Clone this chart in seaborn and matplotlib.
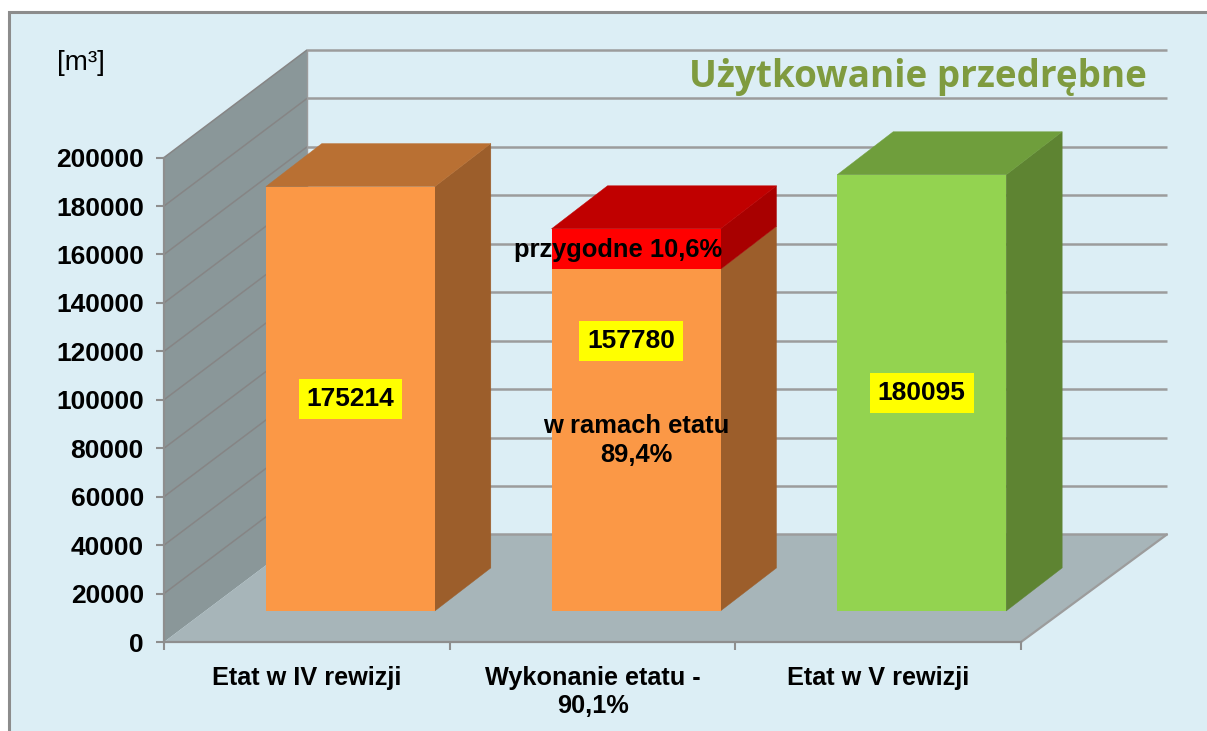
import matplotlib
matplotlib.use("Agg")
import matplotlib.pyplot as plt
from matplotlib.patches import Polygon, Rectangle
import numpy as np
import seaborn as sns

# ---- data ----
categories = ["Etat w IV rewizji", "Wykonanie etatu -\n90,1%", "Etat w V rewizji"]
within_plan = [175214, 141055, 180095]   # lower segment
accidental = [0, 16725, 0]               # upper segment (przygodne)
totals = [175214, 157780, 180095]
y_ticks = [0, 20000, 40000, 60000, 80000, 100000, 120000, 140000, 160000, 180000, 200000]
title_text = "Użytkowanie przedrębne"
unit_text = "[m³]"

# ---- styles ----
FRONT = ["#FB9846", "#FB9846", "#93D350"]
TOP = ["#B97033", "#B97033", "#6F9E3C"]
SIDE = ["#9C5E2B", "#9C5E2B", "#5E8432"]
RED_FRONT, RED_TOP, RED_SIDE = "#FF0000", "#C00000", "#A80000"
BG, WALL, FLOOR, GRID, WALLGRID = "#DCEEF5", "#8A9799", "#A7B5B9", "#9C9C9C", "#868585"
FONT = "Liberation Sans"

W, H = 1207, 731
AX_L, AX_R, AX_B, AX_T = 164, 1167, 642, 50
XPX = (1021 - 164) / 3          # pixels per category
YPX = (642 - 158) / 200000      # pixels per m3

def px_x(n):
    return n / XPX

def px_y(n):
    return n / YPX

FLOOR_DX_L, FLOOR_DX, FLOOR_DY = px_x(143), px_x(146), px_y(107.5)
BAR_SHIFT_X, BAR_SHIFT_Y = px_x(43.5), px_y(31)
BAR_DX, BAR_DY = px_x(56), px_y(43)
BAR_WIDTH = 169 / XPX

sns.set_theme(style="white")
plt.rcParams["font.family"] = [FONT, "DejaVu Sans"]

fig = plt.figure(figsize=(W / 100, H / 100), dpi=100, facecolor="white")
fig.add_artist(Rectangle((8.5 / W, -0.1), 1.1, 1 - 11.5 / H + 0.1, transform=fig.transFigure,
                         facecolor=BG, edgecolor="#8C8C8C", linewidth=2.2, zorder=-5))
ax = fig.add_axes([AX_L / W, 1 - AX_B / H, (AX_R - AX_L) / W, (AX_B - AX_T) / H])
ax.patch.set_visible(False)

def poly(pts, color, z, ec=None, lw=0.0):
    ax.add_patch(Polygon(pts, closed=True, facecolor=color, edgecolor=ec or color, linewidth=lw, zorder=z))

# segments drawn by seaborn, then moved into the pseudo-3D front plane
def draw_segment(values, colors, z):
    before = len(ax.patches)
    sns.barplot(x=categories, y=values, hue=categories, palette=colors, legend=False,
                width=BAR_WIDTH, gap=0, dodge=False, ax=ax, zorder=z, linewidth=0, saturation=1)
    return ax.patches[before:]

base_bars = draw_segment(within_plan, FRONT, 6)
top_bars = draw_segment(accidental, [RED_FRONT] * 3, 6)

x0, x1 = -0.5, 2.5
xlim = (x0, x1 + FLOOR_DX)
ylim = (0, 200000 + FLOOR_DY)
ax.set_xlim(*xlim)
ax.set_ylim(*ylim)

# walls and floor
poly([(x0, 0), (x0 + FLOOR_DX_L, FLOOR_DY), (x0 + FLOOR_DX_L, 200000 + FLOOR_DY), (x0, 200000)], WALL, 1)
poly([(x0, 0), (x1, 0), (x1 + FLOOR_DX, FLOOR_DY), (x0 + FLOOR_DX_L, FLOOR_DY)], FLOOR, 1)
ax.plot([x1, x1 + FLOOR_DX], [0, FLOOR_DY], color=GRID, lw=1.6, zorder=2, clip_on=False)
for t in y_ticks:
    ax.plot([x0 + FLOOR_DX_L, x1 + FLOOR_DX], [t + FLOOR_DY] * 2, color=GRID, lw=1.8, zorder=2,
            clip_on=False, solid_capstyle="butt")
    if t > 0:
        ax.plot([x0, x0 + FLOOR_DX_L], [t, t + FLOOR_DY], color=WALLGRID, lw=1.1, zorder=2, clip_on=False)
ax.plot([x0 + FLOOR_DX_L] * 2, [FLOOR_DY, 200000 + FLOOR_DY], color=GRID, lw=1.0, zorder=2)

# extrude each bar
def extrude(patch, bottom, i, z, front_side, front_top=None):
    patch.set_x(patch.get_x() + BAR_SHIFT_X)
    patch.set_y(bottom + BAR_SHIFT_Y)
    xl, xr = patch.get_x(), patch.get_x() + patch.get_width()
    yb, yt = patch.get_y(), patch.get_y() + patch.get_height()
    poly([(xr, yb), (xr + BAR_DX, yb + BAR_DY), (xr + BAR_DX, yt + BAR_DY), (xr, yt)], front_side, z, lw=0.3)
    if front_top:
        poly([(xl, yt), (xr, yt), (xr + BAR_DX, yt + BAR_DY), (xl + BAR_DX, yt + BAR_DY)], front_top, z, lw=0.3)

for i, p in enumerate(base_bars):
    has_top = accidental[i] == 0
    extrude(p, 0, i, 4, SIDE[i], TOP[i] if has_top else None)
for i, p in enumerate(top_bars):
    if accidental[i] > 0:
        extrude(p, within_plan[i], i, 5, RED_SIDE, RED_TOP)
    else:
        p.set_visible(False)

# axes furniture
for s in ("top", "right"):
    ax.spines[s].set_visible(False)
for s in ("left", "bottom"):
    ax.spines[s].set_color("#8E8E8E")
    ax.spines[s].set_linewidth(1.6)
    ax.spines[s].set_zorder(3)
ax.spines["left"].set_bounds(0, 200000)
ax.spines["bottom"].set_bounds(x0, x1)
ax.set_yticks(y_ticks)
ax.set_yticklabels([str(t) for t in y_ticks], fontsize=19, fontweight="bold", color="black", fontfamily=FONT)
ax.set_xticks([0, 1, 2])
ax.set_xticklabels(categories, fontsize=18.2, fontweight="bold", color="black", fontfamily=FONT,
                   linespacing=1.25)
ax.set_xticks([-0.5, 0.5, 1.5, 2.5], minor=True)
ax.tick_params(axis="y", which="major", left=True, length=5.5, width=1.5, color="#8E8E8E", pad=9)
ax.tick_params(axis="x", which="minor", bottom=True, length=5.5, width=1.5, color="#8E8E8E")
ax.tick_params(axis="x", which="major", bottom=False, length=0, pad=17)
ax.set_xlabel("")
ax.set_ylabel("")

# pixel-anchored annotations
def fig_text(px, py, s, **kw):
    kw.setdefault("ha", "center")
    kw.setdefault("va", "center")
    fig.text(px / W, 1 - py / H, s, **kw)

fig_text(81, 63, unit_text, fontsize=20, color="black", fontfamily=FONT)
fig_text(1147, 77, title_text, ha="right", fontsize=26.6, fontweight="bold", color="#7F9B3F", fontfamily="Open Sans")

box = dict(boxstyle="square,pad=0.3", facecolor="#FFFF00", edgecolor="none")
for i, v in enumerate(totals):
    cx = i + BAR_SHIFT_X
    cy = BAR_SHIFT_Y + v / 2
    if i == 1:
        cx, cy = 1 + px_x(38.5), px_y(642 - 341.5)
    ax.text(cx, cy, str(v), ha="center", va="center", fontsize=19, fontweight="bold", color="black",
            fontfamily=FONT, bbox=box, zorder=8)

ax.text(1 + px_x(26), px_y(642 - 250), "przygodne 10,6%", ha="center", va="center", fontsize=18.4,
        fontweight="bold", color="black", fontfamily=FONT, zorder=8)
ax.text(1 + px_x(43.5), px_y(642 - 441), "w ramach etatu\n89,4%", ha="center", va="center", fontsize=18.4,
        fontweight="bold", color="black", fontfamily=FONT, zorder=8, linespacing=1.25)

fig.savefig("out.png", dpi=100)
